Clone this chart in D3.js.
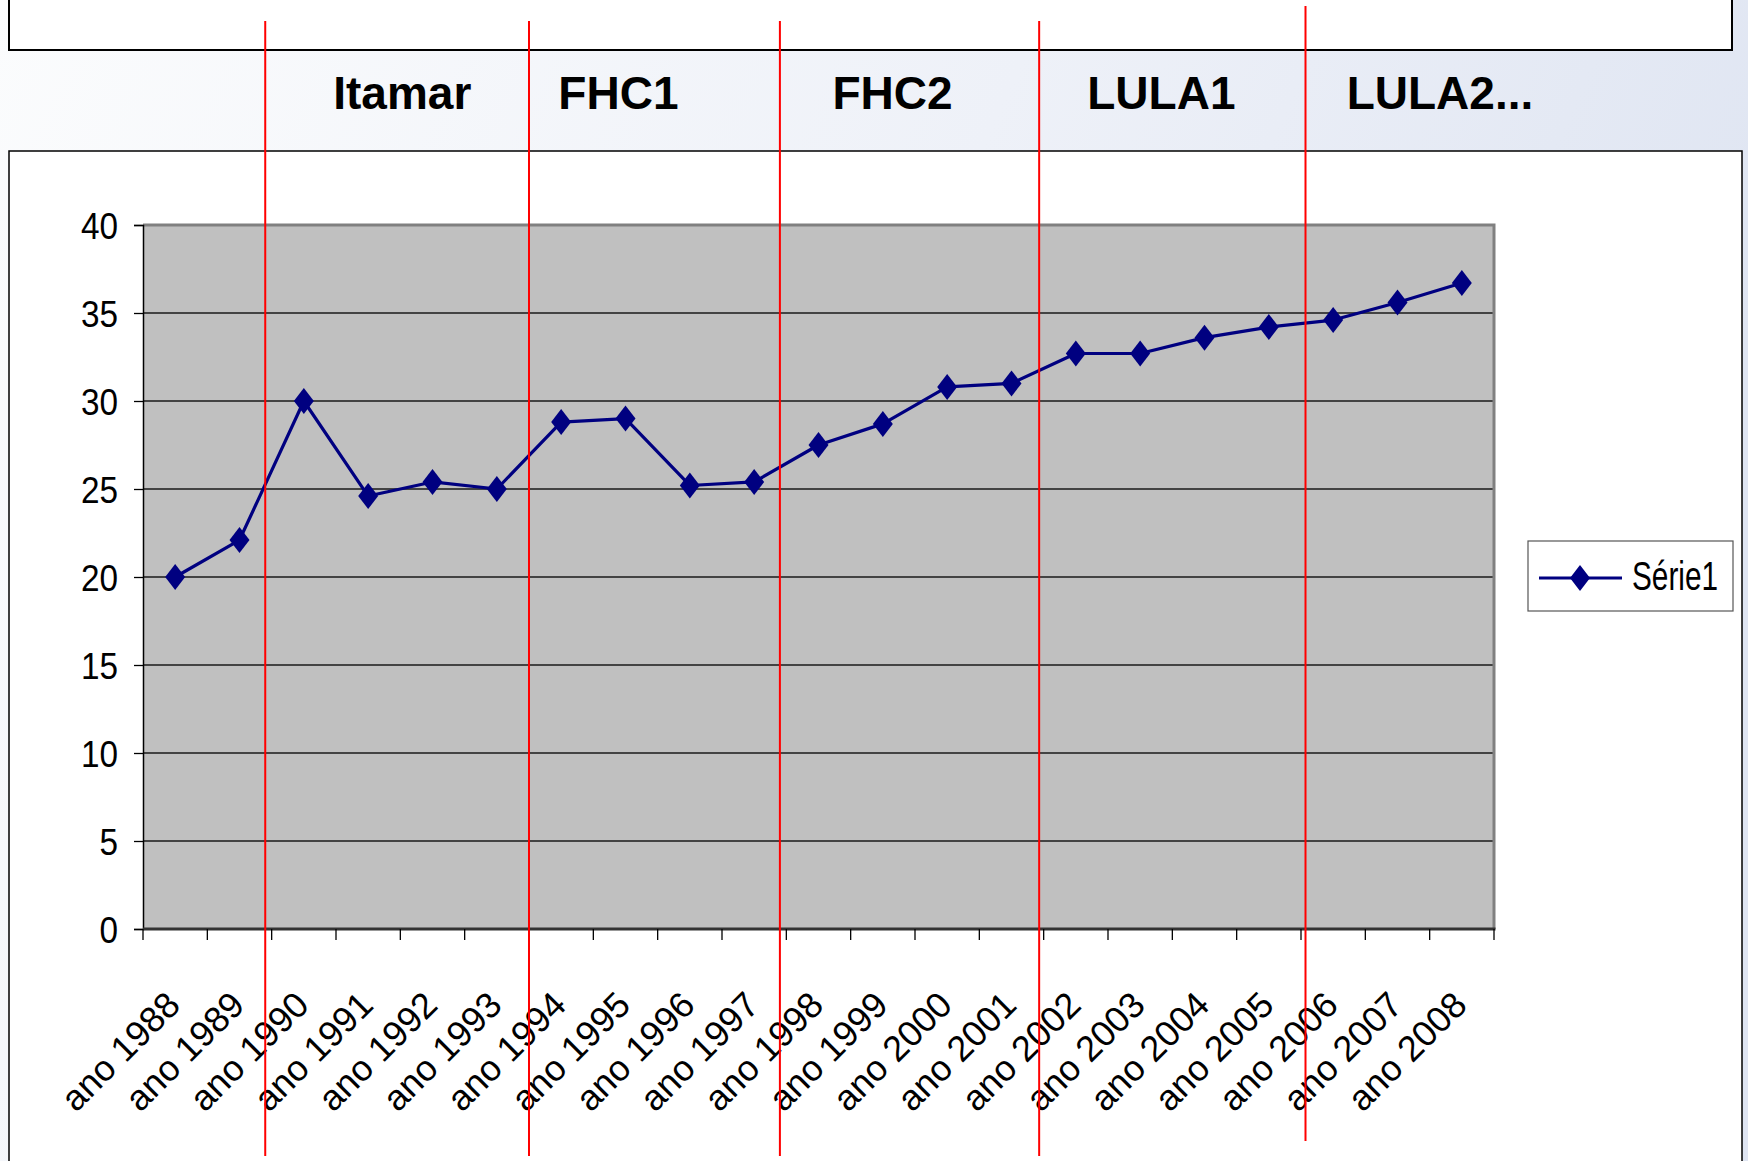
<!DOCTYPE html>
<html>
<head>
<meta charset="utf-8">
<script src="https://cdn.jsdelivr.net/npm/d3@7"></script>
<style>
  html, body { margin: 0; padding: 0; background: #fff; }
  svg { display: block; }
  text { font-family: "Liberation Sans", Arial, sans-serif; }
</style>
</head>
<body>
<svg id="chart" width="1748" height="1161"></svg>
<script>
// ---- data ----
const categories = ["ano 1988","ano 1989","ano 1990","ano 1991","ano 1992","ano 1993","ano 1994",
  "ano 1995","ano 1996","ano 1997","ano 1998","ano 1999","ano 2000","ano 2001","ano 2002",
  "ano 2003","ano 2004","ano 2005","ano 2006","ano 2007","ano 2008"];
const serie1 = [20, 22.1, 30, 24.6, 25.4, 25, 28.8, 29, 25.2, 25.4, 27.5, 28.7, 30.8, 31.0,
  32.7, 32.7, 33.6, 34.2, 34.6, 35.6, 36.7];
const yTicks = [0, 5, 10, 15, 20, 25, 30, 35, 40];
const seriesName = "Série1";
// presidential periods: labels and boundaries (in category-index units)
const periodLabels = ["Itamar", "FHC1", "FHC2", "LULA1", "LULA2..."];
const periodLabelPos = [4.03, 7.39, 11.65, 15.83, 20.16];
const periodBoundaries = [1.9, 6.0, 9.9, 13.93, 18.07];

// ---- layout ----
const W = 1748, H = 1161;
const plot = { left: 143, right: 1494, top: 225, bottom: 929 };
const svg = d3.select("#chart");
const defs = svg.append("defs");

const bg = defs.append("linearGradient").attr("id", "bg").attr("x1", "0").attr("y1", "0").attr("x2", "1").attr("y2", "0.3");
bg.append("stop").attr("offset", "0").attr("stop-color", "#fbfcfd");
bg.append("stop").attr("offset", "0.55").attr("stop-color", "#eef1f8");
bg.append("stop").attr("offset", "1").attr("stop-color", "#dfe5f2");
svg.append("rect").attr("width", W).attr("height", H).attr("fill", "url(#bg)");

// top white box
svg.append("rect").attr("x", 9).attr("y", -10).attr("width", 1723).attr("height", 60)
  .attr("fill", "#fff").attr("stroke", "#000").attr("stroke-width", 2);

// chart box
svg.append("rect").attr("x", 9).attr("y", 151).attr("width", 1733).attr("height", 1030)
  .attr("fill", "#fff").attr("stroke", "#000").attr("stroke-width", 1.5);

// ---- scales ----
const x = d3.scaleBand().domain(categories).range([plot.left, plot.right]).padding(0);
const xi = d3.scaleLinear().domain([0, categories.length]).range([plot.left, plot.right]);
const y = d3.scaleLinear().domain([0, 40]).range([plot.bottom, plot.top]);
const cx = d => x(d) + x.bandwidth() / 2;

// plot area
svg.append("rect").attr("x", plot.left).attr("y", plot.top)
  .attr("width", plot.right - plot.left).attr("height", plot.bottom - plot.top)
  .attr("fill", "#c0c0c0");

// gridlines
svg.append("g").selectAll("line").data(yTicks.filter(t => t > 0 && t < 40)).join("line")
  .attr("x1", plot.left).attr("x2", plot.right)
  .attr("y1", d => y(d)).attr("y2", d => y(d))
  .attr("stroke", "#1a1a1a").attr("stroke-width", 1.3);

// plot border top/right (gray, thick)
svg.append("path")
  .attr("d", `M${plot.left},${plot.top}H${plot.right}V${plot.bottom}`)
  .attr("fill", "none").attr("stroke", "#808080").attr("stroke-width", 3);

// y axis
const yAxis = svg.append("g").attr("transform", `translate(${plot.left},0)`)
  .call(d3.axisLeft(y).tickValues(yTicks).tickSize(9).tickPadding(16).tickFormat(d3.format("d")));
yAxis.select(".domain").attr("stroke", "#000").attr("stroke-width", 1.5);
yAxis.selectAll(".tick line").attr("stroke", "#000").attr("stroke-width", 1.3);
yAxis.selectAll(".tick text").attr("font-size", 37).attr("fill", "#000")
  .attr("font-family", "'Liberation Sans', Arial, sans-serif").attr("dy", "0.36em")
  .each(function () {
    const w = this.getComputedTextLength();
    d3.select(this).attr("textLength", w * 0.9).attr("lengthAdjust", "spacingAndGlyphs");
  });

// x axis line
svg.append("line").attr("x1", plot.left).attr("x2", plot.right + 1.5)
  .attr("y1", plot.bottom).attr("y2", plot.bottom)
  .attr("stroke", "#333").attr("stroke-width", 3);

// x tick marks at category boundaries
svg.append("g").selectAll("line").data(d3.range(categories.length + 1)).join("line")
  .attr("x1", d => xi(d)).attr("x2", d => xi(d))
  .attr("y1", plot.bottom).attr("y2", plot.bottom + 11)
  .attr("stroke", "#000").attr("stroke-width", 1.3);

// x labels via axis
const xAxis = svg.append("g").attr("transform", `translate(0,${plot.bottom})`)
  .call(d3.axisBottom(x).tickSize(0));
xAxis.select(".domain").remove();
xAxis.selectAll(".tick text")
  .attr("font-size", 36).attr("fill", "#000")
  .attr("font-family", "'Liberation Sans', Arial, sans-serif")
  .attr("x", 0).attr("y", 0).attr("dy", 0)
  .attr("text-anchor", "end")
  .attr("transform", "translate(7,78) rotate(-45)");

// series line
const line = d3.line().x((d, i) => cx(categories[i])).y(d => y(d));
svg.append("path").datum(serie1).attr("d", line)
  .attr("fill", "none").attr("stroke", "#000080").attr("stroke-width", 3.2)
  .attr("stroke-linejoin", "round");

const diamond = (hw, hh) => `M0,${-hh}L${hw},0L0,${hh}L${-hw},0Z`;
svg.append("g").selectAll("path").data(serie1).join("path")
  .attr("transform", (d, i) => `translate(${cx(categories[i])},${y(d)})`)
  .attr("d", diamond(10, 13)).attr("fill", "#000080");

// period boundaries (red lines)
const redTop = [21, 21, 21, 21, 6];
const redBottom = [1156, 1156, 1156, 1156, 1141];
svg.append("g").selectAll("line").data(periodBoundaries).join("line")
  .attr("x1", d => xi(d)).attr("x2", d => xi(d))
  .attr("y1", (d, i) => redTop[i]).attr("y2", (d, i) => redBottom[i])
  .attr("stroke", "#ff0000").attr("stroke-width", 2);

// period labels
svg.append("g").selectAll("text").data(periodLabels).join("text")
  .attr("x", (d, i) => xi(periodLabelPos[i])).attr("y", 109)
  .attr("text-anchor", "middle").attr("font-size", 46).attr("font-weight", "bold")
  .attr("fill", "#000").text(d => d);

// legend
const lg = svg.append("g");
lg.append("rect").attr("x", 1528).attr("y", 541).attr("width", 205).attr("height", 70)
  .attr("fill", "#fff").attr("stroke", "#555").attr("stroke-width", 1.2);
lg.append("line").attr("x1", 1539).attr("x2", 1622).attr("y1", 578).attr("y2", 578)
  .attr("stroke", "#000080").attr("stroke-width", 3.2);
lg.append("path").attr("transform", "translate(1580,578)").attr("d", diamond(10, 13)).attr("fill", "#000080");
const lt = lg.append("text").attr("x", 0).attr("y", 0).attr("font-size", 40)
  .attr("fill", "#000").text(seriesName);
const ltw = lt.node().getComputedTextLength();
lt.attr("transform", `translate(1632,590) scale(${86 / ltw},1)`);
</script>
</body>
</html>
